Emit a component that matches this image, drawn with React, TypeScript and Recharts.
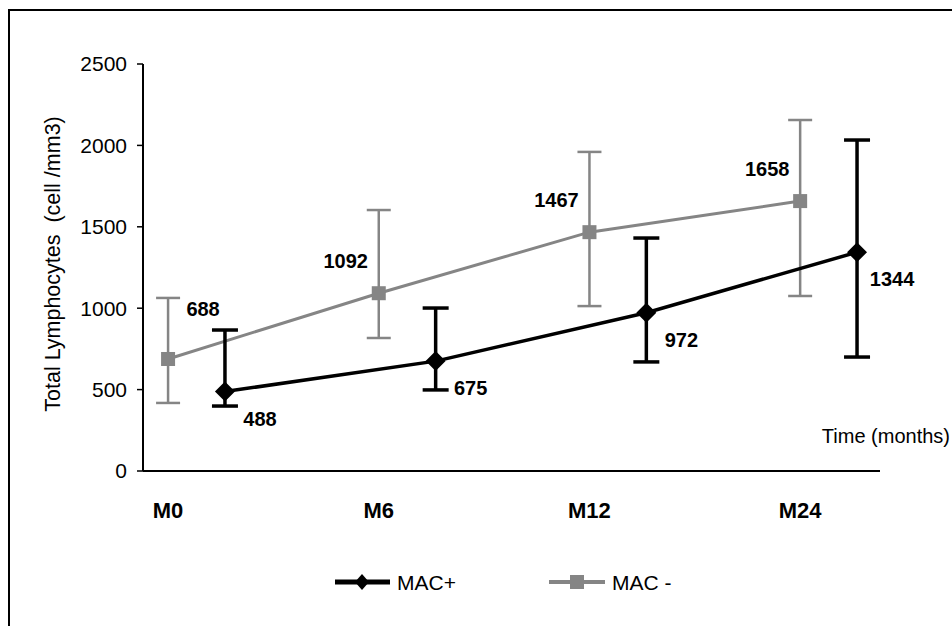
// Total lymphocytes over time, MAC+ vs MAC- (mean with error bars)

import { LineChart, Line, XAxis, YAxis, ErrorBar, LabelList } from 'recharts';

const categories = ['M0', 'M6', 'M12', 'M24'];
const yTicks = [0, 500, 1000, 1500, 2000, 2500];

const macMinus = [688, 1092, 1467, 1658];
const macMinusLow = [418, 817, 1013, 1075];
const macMinusHigh = [1063, 1603, 1960, 2156];

const macPlus = [488, 675, 972, 1344];
const macPlusLow = [399, 498, 670, 700];
const macPlusHigh = [866, 1001, 1431, 2033];

const GRAY = '#858585';
const BLACK = '#000000';
const FONT = '"Liberation Sans", Arial, sans-serif';
// MAC+ points sit a little to the right of each category
const PLUS_SHIFT = 0.27;

const minusData = categories.map((c, i) => ({
  x: i,
  name: c,
  value: macMinus[i],
  err: [macMinus[i] - macMinusLow[i], macMinusHigh[i] - macMinus[i]],
}));

const plusData = categories.map((c, i) => ({
  x: i + PLUS_SHIFT,
  name: c,
  value: macPlus[i],
  err: [macPlus[i] - macPlusLow[i], macPlusHigh[i] - macPlus[i]],
}));

const SquareDot = (props: any) => {
  const { cx, cy, index } = props;
  if (cx == null || cy == null) return null;
  return <rect key={`sq-${index}`} x={cx - 7} y={cy - 7} width={14} height={14} fill={GRAY} />;
};

const DiamondDot = (props: any) => {
  const { cx, cy, index } = props;
  if (cx == null || cy == null) return null;
  return (
    <polygon
      key={`dm-${index}`}
      points={`${cx},${cy - 10} ${cx + 10},${cy} ${cx},${cy + 10} ${cx - 10},${cy}`}
      fill={BLACK}
    />
  );
};

const minusLabel = (props: any) => {
  const { x, y, value, index } = props;
  const dx = index === 0 ? 35 : -33;
  const dy = index === 0 ? -50 : -32;
  return (
    <text
      x={x + dx}
      y={y + dy}
      textAnchor="middle"
      dominantBaseline="central"
      fontFamily={FONT}
      fontSize={20}
      fontWeight="bold"
      fill="#000"
    >
      {value}
    </text>
  );
};

const plusLabel = (props: any) => {
  const { x, y, value } = props;
  return (
    <text
      x={x + 35}
      y={y + 27}
      textAnchor="middle"
      dominantBaseline="central"
      fontFamily={FONT}
      fontSize={20}
      fontWeight="bold"
      fill="#000"
    >
      {value}
    </text>
  );
};

const XTick = (props: any) => {
  const { x, y, payload } = props;
  return (
    <text
      x={x}
      y={y + 37}
      textAnchor="middle"
      dominantBaseline="central"
      fontFamily={FONT}
      fontSize={22}
      fontWeight="bold"
      fill="#000"
    >
      {categories[payload.value]}
    </text>
  );
};

const YLabel = () => (
  <text
    x={53}
    y={264}
    transform="rotate(-90, 53, 264)"
    textAnchor="middle"
    dominantBaseline="central"
    fontFamily={FONT}
    fontSize={21.5}
    fill="#000"
  >
    {'Total Lymphocytes \u00a0(cell /mm3)'}
  </text>
);

export default function App() {
  return (
    <div
      style={{
        position: 'absolute',
        left: 0,
        top: 0,
        width: 952,
        height: 626,
        overflow: 'hidden',
        background: '#fff',
        fontFamily: FONT,
      }}
    >
      {/* outer frame, only top and left edges visible */}
      <div
        style={{
          position: 'absolute',
          left: 8,
          top: 9,
          width: 1200,
          height: 900,
          borderTop: '2px solid #000',
          borderLeft: '2px solid #000',
        }}
      />

      <LineChart
        width={952}
        height={626}
        margin={{ top: 64, right: 72, bottom: 125, left: 83 }}
        style={{ position: 'absolute', left: 0, top: 0 }}
      >
        <XAxis
          type="number"
          dataKey="x"
          domain={[-0.119, 3.379]}
          ticks={[0, 1, 2, 3]}
          tick={<XTick />}
          tickLine={false}
          tickSize={0}
          height={30}
          axisLine={{ stroke: '#000', strokeWidth: 2 }}
          allowDecimals
        />
        <YAxis
          type="number"
          domain={[0, 2500]}
          ticks={yTicks}
          width={60}
          tickSize={6}
          tickMargin={10}
          tick={{ fill: '#000', fontSize: 21, fontFamily: FONT }}
          tickLine={{ stroke: '#000', strokeWidth: 1.5 }}
          axisLine={{ stroke: '#000', strokeWidth: 2 }}
          label={<YLabel />}
        />
        <Line
          data={minusData}
          dataKey="value"
          stroke={GRAY}
          strokeWidth={3}
          dot={<SquareDot />}
          activeDot={false}
          isAnimationActive={false}
        >
          <ErrorBar dataKey="err" direction="y" width={12} stroke={GRAY} strokeWidth={2.5} />
          <LabelList dataKey="value" content={minusLabel} />
        </Line>
        <Line
          data={plusData}
          dataKey="value"
          stroke={BLACK}
          strokeWidth={3.5}
          dot={<DiamondDot />}
          activeDot={false}
          isAnimationActive={false}
        >
          <ErrorBar dataKey="err" direction="y" width={13} stroke={BLACK} strokeWidth={3.5} />
          <LabelList dataKey="value" content={plusLabel} />
        </Line>
      </LineChart>

      <div
        style={{
          position: 'absolute',
          right: 2,
          top: 425,
          fontSize: 20,
          color: '#000',
          whiteSpace: 'nowrap',
        }}
      >
        Time (months)
      </div>

      {/* legend */}
      <svg width={952} height={40} style={{ position: 'absolute', left: 0, top: 562 }}>
        <line x1={335} y1={20} x2={390} y2={20} stroke={BLACK} strokeWidth={5} />
        <polygon points="362,12 369,20 362,28 355,20" fill={BLACK} />
        <text x={397} y={20} dominantBaseline="central" fontFamily={FONT} fontSize={21} fill="#000">
          MAC+
        </text>
        <line x1={549} y1={20} x2={605} y2={20} stroke={GRAY} strokeWidth={4} />
        <rect x={570} y={13} width={14} height={14} fill={GRAY} />
        <text x={612} y={20} dominantBaseline="central" fontFamily={FONT} fontSize={21} fill="#000">
          MAC -
        </text>
      </svg>
    </div>
  );
}
